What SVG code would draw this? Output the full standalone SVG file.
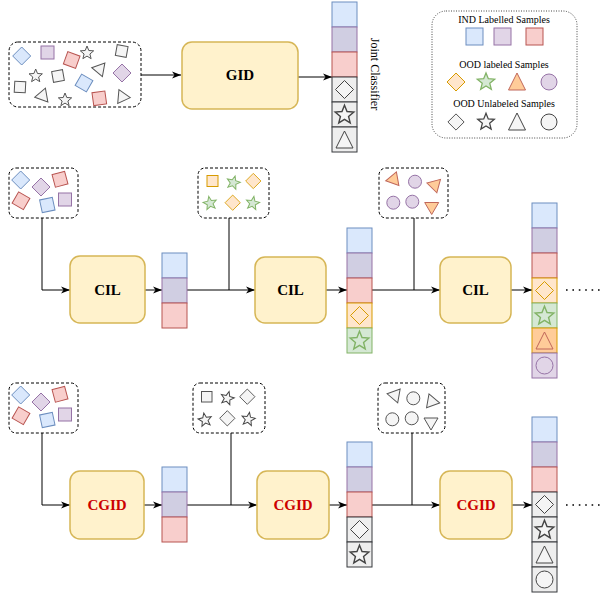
<svg xmlns="http://www.w3.org/2000/svg" width="603" height="596" viewBox="0 0 603 596">
<defs>
<style>
.bl{fill:#dae8fc;stroke:#6c8ebf}
.pu{fill:#e1d5e7;stroke:#9673a6}
.pc{fill:#d0cee2;stroke:#9673a6}
.re{fill:#f8cecc;stroke:#b85450}
.gy{fill:#f5f5f5;stroke:#555555}
.gc{fill:#eeeeee;stroke:#36393d}
.gs{fill:#f5f5f5;stroke:#444444}
.or{fill:#ffe6cc;stroke:#d79b00}
.gr{fill:#d5e8d4;stroke:#82b366}
.tr{fill:#ffcc99;stroke:#c0675a}
.tc{fill:#ffcc99;stroke:#d79b00}
.dash{fill:none;stroke:#000;stroke-dasharray:3 2}
.dot{fill:none;stroke:#333;stroke-dasharray:1 1.5;stroke-width:0.9}
.proc{fill:#fff2cc;stroke:#d6b656;stroke-width:1.5}
.ln{fill:none;stroke:#000;stroke-width:1}
.dots{fill:none;stroke:#000;stroke-width:1.6;stroke-dasharray:1.6 4.8}
.lbl{font-family:"Liberation Serif",serif;font-weight:bold;font-size:15px;text-anchor:middle}
.leg{font-family:"Liberation Serif",serif;font-size:10px;text-anchor:middle}
</style>
<marker id="ar" markerWidth="10" markerHeight="8" refX="9" refY="4" orient="auto" markerUnits="userSpaceOnUse">
<path d="M0,0.5 L9,4 L0,7.5 L2.5,4 z" fill="#000"/>
</marker>
<path id="st" d="M0,-7 L1.8,-2.5 L6.66,-2.16 L2.9,1 L4.11,5.66 L0,3.1 L-4.11,5.66 L-2.9,1 L-6.66,-2.16 L-1.8,-2.5 z"/>
<polygon id="tri" points="0,-7 7,5 -7,5"/>
<polygon id="dia" points="0,-9 9,0 0,9 -9,0"/>
</defs>

<!-- connectors -->
<g id="connectors">
<line class="ln" x1="141" y1="75" x2="181" y2="75" marker-end="url(#ar)"/>
<line class="ln" x1="298" y1="77" x2="332" y2="77" marker-end="url(#ar)"/>
<path class="ln" d="M42,218 V290 H70" marker-end="url(#ar)"/>
<line class="ln" x1="145" y1="290" x2="162" y2="290" marker-end="url(#ar)"/>
<path class="ln" d="M187,290 H255" marker-end="url(#ar)"/>
<line class="ln" x1="229" y1="218" x2="229" y2="290"/>
<line class="ln" x1="326" y1="290" x2="347" y2="290" marker-end="url(#ar)"/>
<path class="ln" d="M372,290 H440" marker-end="url(#ar)"/>
<line class="ln" x1="414" y1="218" x2="414" y2="290"/>
<line class="ln" x1="511" y1="290" x2="532" y2="290" marker-end="url(#ar)"/>
<line class="dots" x1="566" y1="290" x2="600" y2="290"/>
<path class="ln" d="M42,433 V505 H70" marker-end="url(#ar)"/>
<line class="ln" x1="144" y1="505" x2="162" y2="505" marker-end="url(#ar)"/>
<path class="ln" d="M187,505 H257" marker-end="url(#ar)"/>
<line class="ln" x1="231" y1="433" x2="231" y2="505"/>
<line class="ln" x1="329" y1="505" x2="347" y2="505" marker-end="url(#ar)"/>
<path class="ln" d="M372,505 H440" marker-end="url(#ar)"/>
<line class="ln" x1="412" y1="433" x2="412" y2="505"/>
<line class="ln" x1="512" y1="505" x2="532" y2="505" marker-end="url(#ar)"/>
<line class="dots" x1="566" y1="505" x2="600" y2="505"/>
</g>

<!-- top sample box -->
<g id="samples-top">
<rect class="dash" x="9" y="42" width="132" height="65" rx="9"/>
<use href="#dia" class="bl" transform="translate(21.7,56)"/>
<rect class="pu" x="41" y="46" width="13" height="13"/>
<rect class="re" x="-6.5" y="-6.5" width="13" height="13" transform="translate(71.7,60) rotate(20)"/>
<use href="#st" class="gy" transform="translate(87,53)"/>
<rect class="gy" x="-5.5" y="-5.5" width="11" height="11" transform="translate(121.7,51) rotate(10)"/>
<use href="#st" class="gy" transform="translate(35.7,76)"/>
<rect class="gy" x="-5.5" y="-5.5" width="11" height="11" transform="translate(58,76) rotate(-10)"/>
<use href="#tri" class="gy" transform="translate(100,70) rotate(160)"/>
<use href="#dia" class="pu" transform="translate(122,73)"/>
<rect class="gy" x="-5.5" y="-5.5" width="11" height="11" transform="translate(20,87) rotate(3)"/>
<rect class="bl" x="-6.5" y="-6.5" width="13" height="13" transform="translate(84,83) rotate(30)"/>
<use href="#tri" class="gy" transform="translate(41.7,96) rotate(-100)"/>
<use href="#st" class="gy" transform="translate(65,100)"/>
<rect class="re" x="-6.5" y="-6.5" width="13" height="13" transform="translate(99.3,98.3) rotate(-8)"/>
<use href="#tri" class="gy" transform="translate(123.3,97) rotate(95)"/>
</g>

<g id="gid">
<rect class="proc" x="182" y="42" width="116" height="67" rx="10"/>
<text class="lbl" x="240" y="80">GID</text>
</g>

<g id="joint-classifier">
<rect class="bl" x="332" y="2" width="25" height="25"/>
<rect class="pc" x="332" y="27" width="25" height="25"/>
<rect class="re" x="332" y="52" width="25" height="25"/>
<rect class="gc" x="332" y="77" width="25" height="25"/>
<rect class="gc" x="332" y="102" width="25" height="25"/>
<rect class="gc" x="332" y="127" width="25" height="25"/>
<use href="#dia" class="gs" transform="translate(344.5,89.5)"/>
<use href="#st" class="gs" transform="translate(344.5,115) scale(1.4)"/>
<polygon class="gs" points="344.5,131 353,148 336,148"/>
<text class="leg" style="font-size:12px" transform="translate(371,74) rotate(90)">Joint Classifier</text>
</g>

<g id="legend">
<rect class="dot" x="432" y="11" width="145" height="127" rx="14"/>
<text class="leg" x="504" y="23">IND Labelled Samples</text>
<rect class="bl" x="466" y="28" width="17" height="17"/>
<rect class="pu" x="494" y="28" width="17" height="17"/>
<rect class="re" x="526" y="28" width="17" height="17"/>
<text class="leg" x="504" y="68">OOD labeled Samples</text>
<use href="#dia" class="or" transform="translate(456,82)"/>
<use href="#st" class="gr" transform="translate(486,82) scale(1.3)"/>
<polygon class="tr" points="517,73 525.5,90 508.5,90"/>
<circle class="pu" cx="549" cy="82" r="8"/>
<text class="leg" x="504" y="107">OOD Unlabeled Samples</text>
<use href="#dia" class="gs" transform="translate(456,122) scale(0.9)"/>
<use href="#st" class="gs" transform="translate(486,122) scale(1.25)"/>
<polygon class="gs" points="517,113 525.5,130 508.5,130"/>
<circle class="gs" cx="549" cy="122" r="8"/>
</g>

<!-- middle row -->
<g id="samples-m1">
<rect class="dash" x="9" y="168" width="69" height="50" rx="7"/>
<use href="#dia" class="bl" transform="translate(20.7,180)"/>
<use href="#dia" class="pu" transform="translate(41,187)"/>
<rect class="re" x="-6.5" y="-6.5" width="13" height="13" transform="translate(60,179.3) rotate(-15)"/>
<rect class="re" x="-6.5" y="-6.5" width="13" height="13" transform="translate(21,200.7) rotate(30)"/>
<rect class="bl" x="-6.5" y="-6.5" width="13" height="13" transform="translate(47.3,205) rotate(-12)"/>
<rect class="pu" x="58.5" y="193" width="13" height="13"/>
</g>
<g id="samples-m2">
<rect class="dash" x="198" y="168" width="71" height="50" rx="7"/>
<rect class="or" x="207" y="175.5" width="11" height="11"/>
<use href="#st" class="gr" transform="translate(233.3,182.7) rotate(15)"/>
<use href="#dia" class="or" transform="translate(253.3,181) scale(0.85)"/>
<use href="#st" class="gr" transform="translate(210,203.3) rotate(-10)"/>
<use href="#dia" class="or" transform="translate(232.7,202.7) scale(0.85)"/>
<use href="#st" class="gr" transform="translate(252.7,203.3) rotate(10)"/>
</g>
<g id="samples-m3">
<rect class="dash" x="379" y="168" width="69" height="50" rx="7"/>
<use href="#tri" class="tr" transform="translate(394,178.5) rotate(20)"/>
<circle class="pu" cx="415" cy="181.7" r="6.5"/>
<use href="#tri" class="tr" transform="translate(435,186) rotate(165)"/>
<circle class="pu" cx="393.3" cy="202.7" r="6.5"/>
<circle class="pu" cx="412.3" cy="201.7" r="6.5"/>
<use href="#tri" class="tr" transform="translate(431.7,207.5) rotate(180)"/>
</g>

<g id="cil1">
<rect class="proc" x="70" y="256" width="75" height="67" rx="10"/>
<text class="lbl" x="107.5" y="295">CIL</text>
</g>
<g id="col-m1">
<rect class="bl" x="162" y="253" width="25" height="25"/>
<rect class="pc" x="162" y="278" width="25" height="25"/>
<rect class="re" x="162" y="303" width="25" height="25"/>
</g>
<g id="cil2">
<rect class="proc" x="255" y="257" width="71" height="66" rx="10"/>
<text class="lbl" x="290.5" y="295">CIL</text>
</g>
<g id="col-m2">
<rect class="bl" x="347" y="228" width="25" height="25"/>
<rect class="pc" x="347" y="253" width="25" height="25"/>
<rect class="re" x="347" y="278" width="25" height="25"/>
<rect class="or" x="347" y="303" width="25" height="25"/>
<rect class="gr" x="347" y="328" width="25" height="25"/>
<use href="#dia" style="fill:none;stroke:#d79b00" transform="translate(359.5,315.5)"/>
<use href="#st" style="fill:none;stroke:#82b366" transform="translate(359.5,341) scale(1.4)"/>
</g>
<g id="cil3">
<rect class="proc" x="440" y="257" width="71" height="66" rx="10"/>
<text class="lbl" x="475.5" y="295">CIL</text>
</g>
<g id="col-m3">
<rect class="bl" x="532" y="203" width="25" height="25"/>
<rect class="pc" x="532" y="228" width="25" height="25"/>
<rect class="re" x="532" y="253" width="25" height="25"/>
<rect class="or" x="532" y="278" width="25" height="25"/>
<rect class="gr" x="532" y="303" width="25" height="25"/>
<rect class="tc" x="532" y="328" width="25" height="25"/>
<rect class="pu" x="532" y="353" width="25" height="25"/>
<use href="#dia" style="fill:none;stroke:#d79b00" transform="translate(544.5,290.5)"/>
<use href="#st" style="fill:none;stroke:#82b366" transform="translate(544.5,316) scale(1.4)"/>
<polygon style="fill:none;stroke:#c0675a" points="544.5,332 553,349 536,349"/>
<circle class="pu" cx="544.5" cy="365.5" r="8.5"/>
</g>

<!-- bottom row -->
<g id="samples-b1">
<rect class="dash" x="9" y="383" width="69" height="50" rx="7"/>
<use href="#dia" class="bl" transform="translate(20.7,395)"/>
<use href="#dia" class="pu" transform="translate(41,402)"/>
<rect class="re" x="-6.5" y="-6.5" width="13" height="13" transform="translate(60,394.3) rotate(-15)"/>
<rect class="re" x="-6.5" y="-6.5" width="13" height="13" transform="translate(21,415.7) rotate(30)"/>
<rect class="bl" x="-6.5" y="-6.5" width="13" height="13" transform="translate(47.3,420) rotate(-12)"/>
<rect class="pu" x="58.5" y="408" width="13" height="13"/>
</g>
<g id="samples-b2">
<rect class="dash" x="193" y="383" width="72" height="50" rx="7"/>
<rect class="gy" x="201.5" y="391.5" width="10.5" height="10.5"/>
<use href="#st" class="gs" transform="translate(227.3,398.3) rotate(15)"/>
<use href="#dia" class="gs" transform="translate(247.3,396.7) scale(0.85)"/>
<use href="#st" class="gs" transform="translate(205,420) rotate(-10)"/>
<use href="#dia" class="gs" transform="translate(227.3,418.3) scale(0.85)"/>
<use href="#st" class="gs" transform="translate(248.3,419.3) rotate(10)"/>
</g>
<g id="samples-b3">
<rect class="dash" x="378" y="383" width="67" height="50" rx="7"/>
<use href="#tri" class="gy" transform="translate(394,395) rotate(-80)"/>
<circle class="gy" cx="413.3" cy="398.3" r="6.5"/>
<use href="#tri" class="gy" transform="translate(432.7,401.7) rotate(100)"/>
<circle class="gy" cx="392.3" cy="419.3" r="6.5"/>
<circle class="gy" cx="411.7" cy="418.3" r="6.5"/>
<use href="#tri" class="gy" transform="translate(431,423) rotate(180)"/>
</g>

<g id="cgid1">
<rect class="proc" x="70" y="471" width="74" height="68" rx="10"/>
<text class="lbl" x="107" y="510" fill="#cc0000">CGID</text>
</g>
<g id="col-b1">
<rect class="bl" x="162" y="467" width="25" height="25"/>
<rect class="pc" x="162" y="492" width="25" height="25"/>
<rect class="re" x="162" y="517" width="25" height="25"/>
</g>
<g id="cgid2">
<rect class="proc" x="257" y="471" width="72" height="68" rx="10"/>
<text class="lbl" x="293" y="510" fill="#cc0000">CGID</text>
</g>
<g id="col-b2">
<rect class="bl" x="347" y="442" width="25" height="25"/>
<rect class="pc" x="347" y="467" width="25" height="25"/>
<rect class="re" x="347" y="492" width="25" height="25"/>
<rect class="gc" x="347" y="517" width="25" height="25"/>
<rect class="gc" x="347" y="542" width="25" height="25"/>
<use href="#dia" class="gs" transform="translate(359.5,529.5)"/>
<use href="#st" class="gs" transform="translate(359.5,555) scale(1.4)"/>
</g>
<g id="cgid3">
<rect class="proc" x="440" y="471" width="72" height="68" rx="10"/>
<text class="lbl" x="476" y="510" fill="#cc0000">CGID</text>
</g>
<g id="col-b3">
<rect class="bl" x="532" y="417" width="25" height="25"/>
<rect class="pc" x="532" y="442" width="25" height="25"/>
<rect class="re" x="532" y="467" width="25" height="25"/>
<rect class="gc" x="532" y="492" width="25" height="25"/>
<rect class="gc" x="532" y="517" width="25" height="25"/>
<rect class="gc" x="532" y="542" width="25" height="25"/>
<rect class="gc" x="532" y="567" width="25" height="25"/>
<use href="#dia" class="gs" transform="translate(544.5,504.5)"/>
<use href="#st" class="gs" transform="translate(544.5,530) scale(1.4)"/>
<polygon class="gs" points="544.5,546 553,563 536,563"/>
<circle class="gs" cx="544.5" cy="579.5" r="8.5"/>
</g>
</svg>
